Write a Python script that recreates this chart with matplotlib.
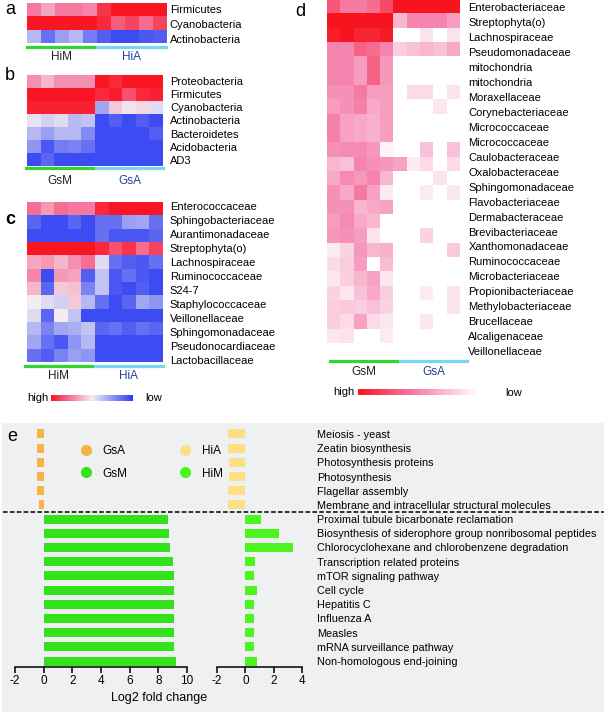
import numpy as np
import matplotlib
matplotlib.use("Agg")
import matplotlib.pyplot as plt
from matplotlib.colors import LinearSegmentedColormap
from matplotlib.patches import Rectangle
from matplotlib.lines import Line2D

plt.rcParams['font.family'] = ['Liberation Sans', 'DejaVu Sans']
plt.rcParams['axes.unicode_minus'] = False

W, H = 604, 714

# ---- panel a: HiM vs HiA phyla (1 = high, 0 = low)
a_taxa = ["Firmicutes", "Cyanobacteria", "Actinobacteria"]
a_vals = [
    [0.75, 0.65, 0.75, 0.75, 0.72, 0.92, 1.0, 1.0, 1.0, 1.0],
    [1.0, 1.0, 1.0, 1.0, 1.0, 0.95, 0.82, 0.88, 0.78, 0.88],
    [0.35, 0.15, 0.28, 0.35, 0.18, 0.10, 0.05, 0.05, 0.08, 0.10],
]

# ---- panel b: GsM vs GsA phyla
b_taxa = ["Proteobacteria", "Firmicutes", "Cyanobacteria", "Actinobacteria",
          "Bacteroidetes", "Acidobacteria", "AD3"]
b_vals = [
    [0.70, 0.62, 0.70, 0.70, 0.70, 1.0, 0.95, 1.0, 1.0, 1.0],
    [1.0, 1.0, 1.0, 1.0, 1.0, 0.95, 0.98, 0.85, 0.95, 0.97],
    [0.97, 0.97, 0.97, 0.97, 0.97, 0.30, 0.58, 0.52, 0.55, 0.45],
    [0.47, 0.42, 0.45, 0.35, 0.38, 0.05, 0.10, 0.05, 0.10, 0.05],
    [0.35, 0.28, 0.35, 0.35, 0.22, 0.05, 0.05, 0.05, 0.05, 0.10],
    [0.25, 0.08, 0.18, 0.20, 0.15, 0.05, 0.05, 0.05, 0.05, 0.05],
    [0.05, 0.12, 0.05, 0.05, 0.05, 0.05, 0.05, 0.05, 0.05, 0.05],
]

# ---- panel c: HiM vs HiA families
c_taxa = ["Enterococcaceae", "Sphingobacteriaceae", "Aurantimonadaceae",
          "Streptophyta(o)", "Lachnospiraceae", "Ruminococcaceae", "S24-7",
          "Staphylococcaceae", "Veillonellaceae", "Sphingomonadaceae",
          "Pseudonocardiaceae", "Lactobacillaceae"]
c_vals = [
    [0.78, 0.68, 0.78, 0.75, 0.75, 0.95, 1.0, 1.0, 1.0, 1.0],
    [0.12, 0.05, 0.05, 0.12, 0.05, 0.15, 0.15, 0.28, 0.30, 0.15],
    [0.05, 0.05, 0.05, 0.05, 0.05, 0.15, 0.08, 0.08, 0.08, 0.12],
    [1.0, 1.0, 1.0, 1.0, 1.0, 0.95, 0.85, 0.92, 0.78, 0.88],
    [0.65, 0.68, 0.62, 0.70, 0.78, 0.45, 0.15, 0.10, 0.08, 0.15],
    [0.72, 0.05, 0.68, 0.66, 0.10, 0.38, 0.08, 0.15, 0.08, 0.05],
    [0.62, 0.12, 0.58, 0.60, 0.20, 0.38, 0.08, 0.05, 0.10, 0.05],
    [0.50, 0.45, 0.42, 0.58, 0.35, 0.15, 0.05, 0.12, 0.30, 0.25],
    [0.45, 0.12, 0.50, 0.38, 0.05, 0.05, 0.05, 0.05, 0.05, 0.05],
    [0.35, 0.20, 0.30, 0.32, 0.38, 0.12, 0.15, 0.10, 0.15, 0.12],
    [0.30, 0.15, 0.08, 0.25, 0.35, 0.05, 0.05, 0.05, 0.05, 0.05],
    [0.15, 0.10, 0.20, 0.28, 0.25, 0.05, 0.05, 0.05, 0.05, 0.05],
]

# ---- panel d: GsM vs GsA families (0 = white, 1 = red)
d_taxa = ["Enterobacteriaceae", "Streptophyta(o)", "Lachnospiraceae",
          "Pseudomonadaceae", "mitochondria", "mitochondria", "Moraxellaceae",
          "Corynebacteriaceae", "Micrococcaceae", "Micrococcaceae",
          "Caulobacteraceae", "Oxalobacteraceae", "Sphingomonadaceae",
          "Flavobacteriaceae", "Dermabacteraceae", "Brevibacteriaceae",
          "Xanthomonadaceae", "Ruminococcaceae", "Microbacteriaceae",
          "Propionibacteriaceae", "Methylobacteriaceae", "Brucellaceae",
          "Alcaligenaceae", "Veillonellaceae"]
d_vals = [
    [0.70, 0.55, 0.55, 0.60, 0.75, 1.0, 1.0, 1.0, 1.0, 1.0],
    [1.0, 1.0, 1.0, 1.0, 1.0, 0.30, 0.50, 0.50, 0.50, 0.40],
    [0.95, 1.0, 0.92, 0.92, 0.97, 0.0, 0.0, 0.12, 0.0, 0.12],
    [0.50, 0.50, 0.65, 0.60, 0.50, 0.20, 0.25, 0.30, 0.25, 0.35],
    [0.50, 0.50, 0.40, 0.65, 0.42, 0.0, 0.0, 0.0, 0.0, 0.0],
    [0.50, 0.50, 0.40, 0.65, 0.42, 0.0, 0.0, 0.0, 0.0, 0.0],
    [0.45, 0.45, 0.55, 0.40, 0.40, 0.0, 0.15, 0.15, 0.0, 0.12],
    [0.40, 0.45, 0.52, 0.35, 0.40, 0.0, 0.0, 0.0, 0.10, 0.0],
    [0.52, 0.38, 0.35, 0.32, 0.40, 0.0, 0.0, 0.0, 0.0, 0.0],
    [0.52, 0.38, 0.35, 0.32, 0.40, 0.0, 0.0, 0.0, 0.0, 0.0],
    [0.45, 0.48, 0.48, 0.42, 0.05, 0.0, 0.0, 0.25, 0.0, 0.25],
    [0.30, 0.25, 0.50, 0.45, 0.42, 0.38, 0.08, 0.15, 0.0, 0.15],
    [0.35, 0.48, 0.42, 0.50, 0.30, 0.0, 0.0, 0.0, 0.12, 0.0],
    [0.45, 0.35, 0.55, 0.38, 0.08, 0.0, 0.0, 0.08, 0.0, 0.10],
    [0.45, 0.45, 0.30, 0.35, 0.38, 0.0, 0.0, 0.0, 0.0, 0.0],
    [0.40, 0.48, 0.35, 0.30, 0.0, 0.0, 0.0, 0.0, 0.0, 0.0],
    [0.42, 0.45, 0.40, 0.12, 0.0, 0.0, 0.0, 0.18, 0.0, 0.0],
    [0.08, 0.18, 0.42, 0.30, 0.32, 0.0, 0.0, 0.0, 0.0, 0.22],
    [0.15, 0.20, 0.40, 0.0, 0.28, 0.0, 0.0, 0.0, 0.0, 0.0],
    [0.10, 0.20, 0.30, 0.38, 0.10, 0.0, 0.0, 0.0, 0.0, 0.0],
    [0.18, 0.10, 0.25, 0.35, 0.20, 0.0, 0.0, 0.08, 0.0, 0.12],
    [0.20, 0.22, 0.20, 0.25, 0.18, 0.0, 0.0, 0.0, 0.0, 0.12],
    [0.20, 0.15, 0.38, 0.15, 0.10, 0.0, 0.0, 0.10, 0.0, 0.0],
    [0.10, 0.12, 0.0, 0.0, 0.08, 0.0, 0.0, 0.0, 0.0, 0.0],
]

# ---- panel e: KEGG pathways, log2 fold change
e_pathways = ["Meiosis - yeast", "Zeatin biosynthesis", "Photosynthesis proteins",
              "Photosynthesis", "Flagellar assembly",
              "Membrane and intracellular structural molecules",
              "Proximal tubule bicarbonate reclamation",
              "Biosynthesis of siderophore group nonribosomal peptides",
              "Chlorocyclohexane and chlorobenzene degradation",
              "Transcription related proteins", "mTOR signaling pathway",
              "Cell cycle", "Hepatitis C", "Influenza A", "Measles",
              "mRNA surveillance pathway", "Non-homologous end-joining"]
gsa_fc = [-0.45, -0.45, -0.45, -0.45, -0.45, -0.3]
gsm_fc = [8.65, 8.75, 8.8, 9.03, 9.1, 9.1, 9.1, 9.1, 9.1, 9.1, 9.25]
hia_fc = [-1.2, -1.2, -1.15, -1.15, -1.2, -1.2]
him_fc = [1.13, 2.4, 3.35, 0.65, 0.6, 0.8, 0.6, 0.6, 0.6, 0.6, 0.8]

cmap_rb = LinearSegmentedColormap.from_list(
    'rb', [(0, '#2b3cf2'), (0.5, '#f3eef3'), (0.75, '#f57aa0'), (1, '#fa1525')])
cmap_wr = LinearSegmentedColormap.from_list(
    'wr', [(0, '#ffffff'), (0.5, '#f585b0'), (1, '#f8141e')])

GREEN_LINE = '#2ed62e'
CYAN_LINE = '#78d6ee'
BLUE_TXT = '#23409a'
FS = 8


def box(x, y, w, h):
    return [x / W, 1 - (y + h) / H, w / W, h / H]


def fx(x):
    return x / W


def fy(y):
    return 1 - y / H


fig = plt.figure(figsize=(W / 100, H / 100), dpi=100)

# grey background of panel e
fig.patches.append(Rectangle((fx(2), fy(712)), fx(602), fy(423) - fy(712),
                             transform=fig.transFigure, facecolor='#eef0f2',
                             edgecolor='none', zorder=-5))


def heat(rect, vals, labels, cmap, pad, first, pitch):
    # cells and row labels are laid out with slightly different row pitch
    x, y, w, h = rect
    ax = fig.add_axes(box(x, y, w, h))
    ax.imshow(np.array(vals), cmap=cmap, vmin=0, vmax=1, aspect='auto',
              interpolation='nearest')
    ax.axis('off')
    n = len(labels)
    lab = fig.add_axes(box(x, first - pitch / 2, w + (pad - 2) * 0, pitch * n))
    lab.set_ylim(n - 0.5, -0.5)
    lab.set_yticks(range(n))
    lab.set_yticklabels(labels, fontsize=FS)
    lab.yaxis.tick_right()
    lab.tick_params(axis='y', length=0, pad=pad)
    lab.set_xticks([])
    lab.patch.set_visible(False)
    for s in lab.spines.values():
        s.set_visible(False)
    return ax


def groups(y, g1, g2, t1, t2, ty):
    fig.add_artist(Line2D([fx(g1[0]), fx(g1[1])], [fy(y), fy(y)], color=GREEN_LINE,
                          lw=2.3, transform=fig.transFigure))
    fig.add_artist(Line2D([fx(g2[0]), fx(g2[1])], [fy(y), fy(y)], color=CYAN_LINE,
                          lw=2.3, transform=fig.transFigure))
    fig.text(fx((g1[0] + g1[1]) / 2), fy(ty), t1, ha='center', va='center',
             fontsize=8.5, color='#222222')
    fig.text(fx((g2[0] + g2[1]) / 2), fy(ty), t2, ha='center', va='center',
             fontsize=8.5, color=BLUE_TXT)


heat((27, 3, 140, 40), a_vals, a_taxa, cmap_rb, 2, 9.3, 15)
groups(47, (27, 95), (97, 166), "HiM", "HiA", 57)

heat((27, 75, 136, 91), b_vals, b_taxa, cmap_rb, 5, 80.7, 13.2)
groups(168, (26, 93), (96, 163), "GsM", "GsA", 181)

heat((27, 202, 136, 160), c_vals, c_taxa, cmap_rb, 5, 206, 14)
groups(366, (25, 92), (95, 163), "HiM", "HiA", 376)

heat((327, 0, 133, 343), d_vals, d_taxa, cmap_wr, 6, 7.3, 14.95)
groups(361, (330, 397), (400, 467), "GsM", "GsA", 372)

# colour keys
grad = np.linspace(1, 0, 256)[None, :]
k1 = fig.add_axes(box(51, 395, 82, 6))
k1.imshow(grad, cmap=cmap_rb, aspect='auto')
k1.axis('off')
fig.text(fx(27), fy(398), "high", ha='left', va='center', fontsize=FS)
fig.text(fx(145), fy(398), "low", ha='left', va='center', fontsize=FS)

k2 = fig.add_axes(box(358, 389, 120, 6))
k2.imshow(grad, cmap=cmap_wr, aspect='auto')
k2.axis('off')
fig.text(fx(333), fy(392), "high", ha='left', va='center', fontsize=FS)
fig.text(fx(505), fy(393), "low", ha='left', va='center', fontsize=FS)

# panel e bars
n_top = len(gsa_fc)
rows = np.arange(len(e_pathways))
top_rows = rows[:n_top]
bot_rows = rows[n_top:]
bh = 0.63
y_lim = (16.42, -0.77)

axL = fig.add_axes(box(15, 423, 172, 244))
axL.barh(top_rows, gsa_fc, height=bh, color='#f5b443')
axL.barh(bot_rows, gsm_fc, height=bh, color='#33e21a')
axL.set_xlim(-2, 10)
axL.set_xticks(range(-2, 11, 2))

axR = fig.add_axes(box(217, 423, 85, 244))
axR.barh(top_rows, hia_fc, height=bh, color='#fde086')
axR.barh(bot_rows, him_fc, height=bh, color='#4df520')
axR.set_xlim(-2, 4)
axR.set_xticks(range(-2, 5, 2))
axR.set_yticks(rows)
axR.set_yticklabels(e_pathways, fontsize=7.85)
axR.yaxis.tick_right()
axR.tick_params(axis='y', length=0, pad=11)

for ax in (axL, axR):
    ax.set_ylim(*y_lim)
    ax.patch.set_visible(False)
    for k in ('top', 'left', 'right'):
        ax.spines[k].set_visible(False)
    ax.spines['bottom'].set_linewidth(1.1)
    ax.tick_params(axis='x', length=4, width=1.1, labelsize=8.5, pad=2)
axL.set_yticks([])

fig.add_artist(Line2D([fx(3), fx(604)], [fy(512), fy(512)], color='black',
                      lw=1.1, ls=(0, (3, 1.5)), transform=fig.transFigure))
fig.text(fx(159), fy(698), "Log2 fold change", ha='center', va='center', fontsize=9)

handles = [
    Line2D([], [], ls='none', marker='o', ms=7, color='#f5b443', label='GsA'),
    Line2D([], [], ls='none', marker='o', ms=7, color='#33e21a', label='GsM'),
    Line2D([], [], ls='none', marker='o', ms=7, color='#fde086', label='HiA'),
    Line2D([], [], ls='none', marker='o', ms=7, color='#4df520', label='HiM'),
]
fig.legend(handles=handles, ncol=2, loc='upper left',
           bbox_to_anchor=(fx(80), fy(445)), frameon=False, fontsize=8.5,
           handlelength=1.0, handletextpad=0.9, columnspacing=4.4,
           labelspacing=0.9, borderpad=0, borderaxespad=0)

# panel letters
fig.text(fx(10), fy(9), "a", ha='center', va='center', fontsize=13)
fig.text(fx(10), fy(76), "b", ha='center', va='center', fontsize=13)
fig.text(fx(10), fy(220), "c", ha='center', va='center', fontsize=13, fontweight='bold')
fig.text(fx(300), fy(12), "d", ha='center', va='center', fontsize=13)
fig.text(fx(12), fy(436), "e", ha='center', va='center', fontsize=13)

fig.savefig("out.png", dpi=100)
